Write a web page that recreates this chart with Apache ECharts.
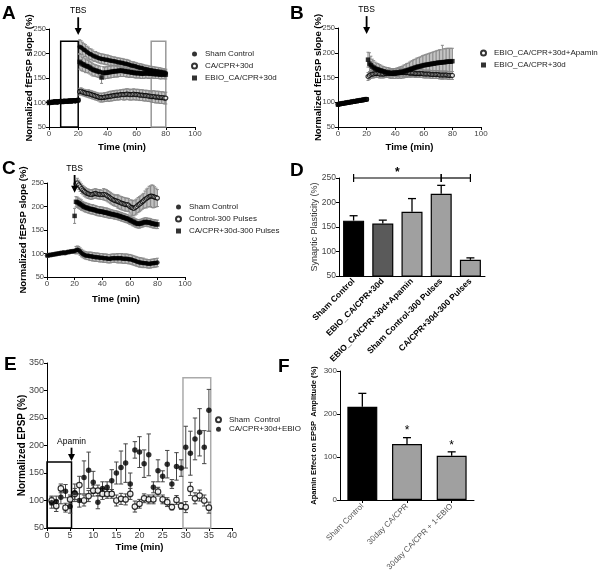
<!DOCTYPE html>
<html><head><meta charset="utf-8">
<script src="https://cdn.jsdelivr.net/npm/echarts@6/dist/echarts.min.js"></script>
<style>html,body{margin:0;padding:0;background:#fff}#c{width:600px;height:570px}</style>
</head><body><div id="c"></div>
<script>
const FONT = 'Liberation Sans, Arial, sans-serif';

// ---------- shared time axis (minutes) ----------
const minutes = [0,1,2,3,4,5,6,7,8,9,10,11,12,13,14,15,16,17,18,19,20,21,22,23,24,25,26,27,28,29,30,31,32,33,34,35,36,37,38,39,40,41,42,43,44,45,46,47,48,49,50,51,52,53,54,55,56,57,58,59,60,61,62,63,64,65,66,67,68,69,70,71,72,73,74,75,76,77,78,79,80];

// ---------- Panel A ----------
const shamA = [100,101,100,101,102,101,101,102,101,102,102,102,103,102,103,103,103,104,103,104,104,
 214,212,210,207,206,203,201,199,198,196,194,194,192,191,190,189,189,188,187,187,
 186,185,185,184,184,183,182,182,181,181,180,179,179,178,177,176,175,175,174,173,
 172,171,171,170,169,168,168,167,166,166,165,165,164,164,163,163,162,161,161,160];
const errShamA = [3,3,3,3,3,3,3,3,3,3,3,3,3,3,3,3,3,3,3,3,3,
 14,14,13,13,12,12,12,11,11,11,10,10,10,10,10,10,10,10,10,10,
 10,10,9,9,9,9,9,9,9,9,9,9,9,9,9,8,8,8,8,8,
 8,8,8,8,8,8,8,8,8,8,8,8,8,8,8,8,8,8,8,8];
const ebioA = [99,100,100,101,101,100,102,101,102,101,102,103,102,103,103,102,104,103,104,104,105,
 183,180,178,177,175,174,173,171,169,167,166,165,164,163,162,151,161,160,161,161,
 162,162,163,163,164,164,164,165,165,165,164,164,163,163,162,162,161,161,160,160,
 160,160,159,159,159,160,160,159,159,159,159,158,158,158,158,157,157,158,157,157];
const errEbioA = [3,3,3,3,3,3,3,3,3,3,3,3,3,3,3,3,3,3,3,3,3,
 15,15,14,14,14,13,13,13,13,13,12,12,12,12,12,12,12,12,12,12,
 12,12,12,12,12,12,12,12,12,12,11,11,11,11,11,10,10,10,10,10,
 10,10,10,10,10,10,10,10,10,10,9,9,9,9,9,9,9,9,9,9];
const caA = [101,100,101,101,102,102,101,102,103,102,103,103,102,103,104,103,104,104,103,104,105,
 122,123,121,120,119,118,118,117,116,115,114,113,112,111,110,110,110,111,111,112,
 112,113,113,114,114,115,115,115,116,116,116,116,117,117,116,116,116,117,116,116,
 116,115,115,115,114,114,114,113,113,112,112,112,111,111,111,110,110,110,109,109];
const errCaA = [3,3,3,3,3,3,3,3,3,3,3,3,3,3,3,3,3,3,3,3,3,
 7,7,7,7,7,7,8,8,8,8,8,8,8,8,9,9,9,9,9,9,
 10,10,10,10,10,10,10,10,10,10,11,11,11,11,11,11,11,11,11,11,
 11,11,11,11,11,11,11,11,11,11,12,12,12,12,12,12,12,12,12,12];

// ---------- Panel B ----------
const apaB = [96,97,97,98,98,99,99,100,100,101,101,102,102,103,103,104,104,105,105,106,106,
 152,154,156,157,157,158,158,158,157,157,157,157,158,158,158,159,159,159,160,160,
 160,160,161,161,161,160,160,160,160,159,159,159,159,158,158,158,158,158,158,157,
 157,157,157,157,156,156,156,156,156,156,155,155,155,155,155,155,154,154,154,154];
const errApaB = [2,2,2,2,2,2,2,2,2,2,2,2,2,2,2,2,2,2,2,2,2,
 8,8,8,8,8,8,8,8,8,8,8,8,8,8,8,8,8,8,8,8,
 8,8,8,8,8,8,8,8,8,8,8,8,8,8,8,8,8,8,8,8,
 8,8,8,8,8,8,8,8,8,8,8,8,8,8,8,8,8,8,8,8];
const ebioB = [95,96,97,97,98,98,99,99,100,100,101,101,102,102,103,103,104,104,105,105,106,
 186,178,175,172,170,168,167,166,165,164,163,162,161,160,160,159,158,158,158,158,
 159,159,160,160,161,162,163,164,165,166,167,168,169,170,171,172,172,173,174,175,
 175,176,176,177,177,178,178,179,179,180,180,180,181,181,181,182,182,182,182,183];
const errEbioB = [2,2,2,2,2,2,2,2,2,2,2,2,2,2,2,2,2,2,2,2,2,
 15,22,18,15,14,13,12,12,11,11,10,10,10,10,10,10,10,10,10,10,
 10,11,11,12,12,13,13,14,14,15,16,16,17,17,18,18,19,19,20,20,
 21,21,22,22,23,23,24,24,25,25,26,26,34,27,27,27,27,27,27,26];

// ---------- Panel C ----------
const shamC = [96,96,97,97,98,98,99,99,100,100,101,101,102,101,102,103,103,104,104,105,105,
 107,108,107,104,101,99,97,96,95,95,94,94,93,93,92,92,92,91,91,91,
 90,90,90,89,89,89,90,90,90,90,90,90,90,90,89,89,89,89,88,88,
 87,86,85,84,83,82,81,81,80,80,79,79,78,78,78,79,79,80,80,81];
const errShamC = [4,4,4,4,4,4,4,4,4,4,4,4,4,4,4,4,4,4,4,4,4,
 8,8,8,8,8,8,8,8,8,8,9,9,9,9,9,9,9,9,9,9,
 9,9,9,9,9,9,9,9,9,9,10,10,10,10,10,10,10,10,10,10,
 10,10,10,10,10,10,10,10,10,10,9,9,9,9,9,9,9,9,9,9];
const ctrl300C = [null,null,null,null,null,null,null,null,null,null,null,null,null,null,null,null,null,null,null,null,null,
 248,250,246,242,238,235,232,230,228,227,226,225,226,227,228,227,226,226,225,225,
 226,225,224,222,220,218,216,214,213,212,211,210,208,207,206,205,204,204,203,200,
 198,197,196,198,200,203,205,207,210,212,215,217,219,221,222,222,221,220,219,218];
const errCtrlC = [0,0,0,0,0,0,0,0,0,0,0,0,0,0,0,0,0,0,0,0,0,
 8,10,10,10,10,10,10,10,10,10,10,10,10,10,10,10,10,10,10,10,
 12,12,12,12,12,12,12,12,12,12,14,14,14,14,14,14,14,14,14,14,
 16,16,16,16,16,16,16,16,16,16,18,20,20,22,22,24,24,22,20,18];
const caC300 = [null,null,null,null,null,null,null,null,null,null,null,null,null,null,null,null,null,null,null,null,180,
 210,209,207,205,203,201,199,198,197,196,195,194,194,193,192,191,190,190,189,189,
 188,187,187,186,185,184,184,183,182,182,181,180,179,178,177,176,175,174,173,171,
 170,168,167,165,164,163,163,164,165,166,167,167,166,166,165,164,163,163,162,162];
const errCaC = [0,0,0,0,0,0,0,0,0,0,0,0,0,0,0,0,0,0,0,0,16,
 11,11,11,11,11,10,10,10,10,10,10,10,10,10,10,10,10,10,10,10,
 10,10,10,10,10,9,9,9,9,9,9,9,9,9,9,9,9,9,9,9,
 9,9,9,9,9,9,9,9,9,9,9,9,9,9,9,9,9,9,9,9];

// ---------- Panel D ----------
const catD = ['Sham Control','EBIO_CA/CPR+30d','EBIO_CA/CPR+30d+Apamin','Sham Control-300 Pulses','CA/CPR+30d-300 Pulses'];
const valD = [163,157,181,218,83];
const errD = [10,7,27,17,4];
const colD = ['#000000','#5a5a5a','#a0a0a0','#a0a0a0','#a0a0a0'];
const sigD = [[0,3,250,1],[3,4,250,0]]; // [from category, to category, level, star]

// ---------- Panel E ----------
const tE = [1,2,3,4,5,6,7,8,9,10,11,12,13,14,15,16,17,18,19,20,21,22,23,24,25,26,27,28,29,30,31,32,33,34,35];
const shamE = [100,90,122,87,102,112,128,100,108,118,118,112,112,112,100,103,102,112,89,94,104,102,102,116,102,97,88,101,90,88,121,104,109,100,87];
const errShamE = [8,10,8,8,8,10,16,10,10,10,10,10,8,8,10,10,10,10,10,8,8,8,8,8,8,8,5,8,6,10,12,10,10,10,10];
const ebioE = [96,98,106,117,89,114,100,142,155,133,97,122,124,136,150,160,168,130,192,188,167,183,124,154,144,166,130,162,159,197,186,212,224,197,264];
const errEbioE = [10,10,12,12,12,16,12,30,33,20,12,12,10,20,20,30,35,20,15,28,25,38,10,20,10,25,8,25,15,38,40,38,43,30,38];

// ---------- Panel F ----------
const catF = ['Sham Control','30day CA/CPR','30day CA/CPR + 1-EBIO'];
const valF = [217,130,103];
const errF = [31,15,9];
const colF = ['#000000','#a0a0a0','#a0a0a0'];

// ---------- helpers ----------
function pts(t, v) { const o = []; t.forEach((x, i) => { if (v[i] != null) o.push([x, v[i]]); }); return o; }
function errPts(t, v, e) { const o = []; t.forEach((x, i) => { if (v[i] != null) o.push([x, v[i] - e[i], v[i] + e[i]]); }); return o; }
function errRender(color, cap, width, oneSided) {
  return function (params, api) {
    const x = api.value(0), lo = api.value(1), hi = api.value(2);
    const a = api.coord([x, hi]), b = api.coord([x, lo]);
    const st = { stroke: color, lineWidth: width };
    const ch = [
      { type: 'line', shape: { x1: a[0], y1: a[1], x2: b[0], y2: b[1] }, style: st },
      { type: 'line', shape: { x1: a[0] - cap, y1: a[1], x2: a[0] + cap, y2: a[1] }, style: st }
    ];
    if (!oneSided) ch.push({ type: 'line', shape: { x1: b[0] - cap, y1: b[1], x2: b[0] + cap, y2: b[1] }, style: st });
    return { type: 'group', children: ch };
  };
}
function errSeries(ax, data, color, cap, width, oneSided) {
  return { type: 'custom', xAxisIndex: ax, yAxisIndex: ax, data: data, renderItem: errRender(color, cap, width, oneSided),
    encode: { x: 0, y: [1, 2] }, silent: true, z: 2, clip: false };
}
// arrow annotation: [x, start value, tip value], label text drawn above start
function arrowSeries(ax, x, y1, y2, text) {
  return { type: 'custom', xAxisIndex: ax, yAxisIndex: ax, data: [[x, y1, y2]], silent: true, z: 5, clip: false,
    encode: { x: 0, y: [1, 2] },
    renderItem: function (params, api) {
      const p1 = api.coord([api.value(0), api.value(1)]);
      const p2 = api.coord([api.value(0), api.value(2)]);
      return { type: 'group', children: [
        { type: 'line', shape: { x1: p1[0], y1: p1[1], x2: p2[0], y2: p2[1] - 6 }, style: { stroke: '#000', lineWidth: 1.8 } },
        { type: 'polygon', shape: { points: [[p2[0] - 3.5, p2[1] - 7], [p2[0] + 3.5, p2[1] - 7], [p2[0], p2[1]]] }, style: { fill: '#000' } },
        { type: 'text', x: p1[0], y: p1[1] - 2, style: { text: text, fill: '#000', font: '8.5px ' + FONT, align: 'center', verticalAlign: 'bottom' } }
      ] };
    } };
}
// significance brackets for panel D
function bracketSeries(ax, data) {
  return { type: 'custom', xAxisIndex: ax, yAxisIndex: ax, data: data, silent: true, z: 5, clip: false,
    encode: { x: [0, 1], y: 2 },
    renderItem: function (params, api) {
      const a = api.coord([api.value(0), api.value(2)]);
      const b = api.coord([api.value(1), api.value(2)]);
      const st = { stroke: '#000', lineWidth: 1.2 };
      const ch = [
        { type: 'line', shape: { x1: a[0], y1: a[1], x2: b[0], y2: b[1] }, style: st },
        { type: 'line', shape: { x1: a[0], y1: a[1] - 4, x2: a[0], y2: a[1] + 4 }, style: st },
        { type: 'line', shape: { x1: b[0], y1: b[1] - 4, x2: b[0], y2: b[1] + 4 }, style: st }
      ];
      if (api.value(3)) ch.push({ type: 'text', x: (a[0] + b[0]) / 2, y: a[1] + 1, style: { text: '*', fill: '#000', font: 'bold 12px ' + FONT, align: 'center', verticalAlign: 'bottom' } });
      return { type: 'group', children: ch };
    } };
}
const FILLED = { color: '#000', borderColor: '#000', borderWidth: 0 };
const OPEN = { color: '#fff', borderColor: '#000', borderWidth: 1.2 };
function sc(name, ax, data, symbol, size, style, extra) {
  return Object.assign({ type: 'scatter', name: name, xAxisIndex: ax, yAxisIndex: ax, data: data, symbol: symbol,
    symbolSize: size, itemStyle: style, z: 3, clip: false, silent: true }, extra || {});
}
function rects(list) {
  return { silent: true, itemStyle: { color: 'rgba(0,0,0,0)', borderWidth: 1.5 },
    data: list.map(r => [{ coord: [r[0], r[1]], itemStyle: { color: 'rgba(0,0,0,0)', borderColor: r[4], borderWidth: 1.5 } }, { coord: [r[2], r[3]] }]) };
}

const axisLine = { show: true, lineStyle: { color: '#000', width: 1 } };
const axisTick = { show: true, length: 3, lineStyle: { color: '#000', width: 1 } };
function lab(size, extra) { return Object.assign({ fontSize: size, color: '#444', fontFamily: FONT, margin: 3, showMinLabel: true, showMaxLabel: true }, extra || {}); }
const nameBold = (s) => ({ fontSize: s, fontWeight: 'bold', color: '#000', fontFamily: FONT });

function timeX(gi, gap, lsize, max, interval) {
  return { type: 'value', gridIndex: gi, min: 0, max: max, interval: interval, axisLine, axisTick,
    axisLabel: lab(lsize), splitLine: { show: false }, name: 'Time (min)', nameLocation: 'middle', nameGap: gap,
    nameMoveOverlap: false, nameTextStyle: nameBold(9.5) };
}
function valY(gi, min, max, interval, name, gap, nameStyle, lsize) {
  return { type: 'value', gridIndex: gi, min: min, max: max, interval: interval, axisLine, axisTick,
    axisLabel: lab(lsize), splitLine: { show: false }, name: name, nameLocation: 'middle', nameGap: gap,
    nameMoveOverlap: false, nameTextStyle: nameStyle };
}
function legend(left, top, names, gap, lh) {
  return { left: left, top: top, orient: 'vertical', itemWidth: 5, itemHeight: 5, itemGap: gap, selectedMode: false,
    padding: 0, data: names, formatter: n => n.split('|')[0],
    textStyle: { fontSize: 8, color: '#222', fontFamily: FONT, lineHeight: lh, padding: [0, 0, 0, 3] } };
}
const letter = (t, l, tp) => ({ text: t, left: l, top: tp, padding: 0, textStyle: { fontSize: 19, fontWeight: 'bold', color: '#000', fontFamily: FONT } });

const series = [];
// A
series.push(errSeries(0, errPts(minutes, shamA, errShamA), '#8a8a8a', 1.5, 1));
series.push(errSeries(0, errPts(minutes, ebioA, errEbioA), '#8a8a8a', 1.5, 1));
series.push(errSeries(0, errPts(minutes, caA, errCaA), '#8a8a8a', 1.5, 1));
series.push(sc('Sham Control|A', 0, pts(minutes, shamA), 'circle', 4.5, FILLED, {
  markArea: rects([[8, 50, 20, 225, '#000'], [70, 50, 80, 225, '#999']]) }));
series.push(sc('CA/CPR+30d|A', 0, pts(minutes, caA), 'circle', 4, OPEN));
series.push(sc('EBIO_CA/CPR+30d|A', 0, pts(minutes, ebioA), 'rect', 4.5, FILLED));
series.push(arrowSeries(0, 20, 274, 238, 'TBS'));
// B
series.push(errSeries(1, errPts(minutes, ebioB, errEbioB), '#8a8a8a', 1.5, 1));
series.push(errSeries(1, errPts(minutes, apaB, errApaB), '#8a8a8a', 1.5, 1));
series.push(sc('EBIO_CA/CPR+30d+Apamin|B', 1, pts(minutes, apaB), 'circle', 4, OPEN));
series.push(sc('EBIO_CA/CPR+30d|B', 1, pts(minutes, ebioB), 'rect', 4.5, FILLED));
series.push(arrowSeries(1, 20, 274, 238, 'TBS'));
// C
series.push(errSeries(2, errPts(minutes, shamC, errShamC), '#8a8a8a', 1.5, 1));
series.push(errSeries(2, errPts(minutes, ctrl300C, errCtrlC), '#8a8a8a', 1.5, 1));
series.push(errSeries(2, errPts(minutes, caC300, errCaC), '#8a8a8a', 1.5, 1));
series.push(sc('Sham Control|C', 2, pts(minutes, shamC), 'circle', 4.5, FILLED));
series.push(sc('Control-300 Pulses|C', 2, pts(minutes, ctrl300C), 'circle', 4, OPEN));
series.push(sc('CA/CPR+30d-300 Pulses|C', 2, pts(minutes, caC300), 'rect', 4.5, FILLED));
series.push(arrowSeries(2, 20, 267, 229, 'TBS'));
// D
series.push({ type: 'bar', xAxisIndex: 3, yAxisIndex: 3, barWidth: '72%', silent: true, z: 2,
  data: valD.map((v, i) => ({ value: v, itemStyle: { color: colD[i], borderColor: '#000', borderWidth: 1.2 } })) });
series.push(errSeries(3, valD.map((v, i) => [i, v, v + errD[i]]), '#000', 4, 1.3, true));
series.push(bracketSeries(3, sigD));
// E
series.push(errSeries(4, errPts(tE, shamE, errShamE), '#444', 2.2, 1));
series.push(errSeries(4, errPts(tE, ebioE, errEbioE), '#444', 2.2, 1));
series.push(sc('Sham  Control|E', 4, pts(tE, shamE), 'circle', 5.5, OPEN, {
  markArea: rects([[0, 50, 5.3, 170, '#000'], [29.4, 50, 35.4, 323, '#aaa']]) }));
series.push(sc('CA/CPR+30d+EBIO|E', 4, pts(tE, ebioE), 'circle', 5.5, FILLED));
series.push(arrowSeries(4, 5.3, 196, 172, 'Apamin'));
// F
series.push({ type: 'bar', xAxisIndex: 5, yAxisIndex: 5, barWidth: '67%', silent: true, z: 2,
  data: valF.map((v, i) => ({ value: v, itemStyle: { color: colF[i], borderColor: '#000', borderWidth: 1.2 } })),
  markPoint: { silent: true, symbol: 'circle', symbolSize: 1, itemStyle: { color: 'rgba(0,0,0,0)' },
    label: { show: true, position: 'top', distance: 0, formatter: '*', fontSize: 12, color: '#000', fontFamily: FONT },
    data: [1, 2].map(i => ({ coord: [catF[i], valF[i] + errF[i]] })) } });
series.push(errSeries(5, valF.map((v, i) => [i, v, v + errF[i]]), '#000', 4, 1.3, true));

const option = {
  animation: false,
  backgroundColor: '#fff',
  title: [letter('A', 2, 4), letter('B', 290, 4), letter('C', 2, 159), letter('D', 290, 161), letter('E', 4, 355), letter('F', 278, 357)],
  grid: [
    { left: 49, top: 29, width: 146, height: 98, outerBoundsMode: 'none' },
    { left: 338, top: 28, width: 143, height: 99, outerBoundsMode: 'none' },
    { left: 47, top: 183, width: 138, height: 94, outerBoundsMode: 'none' },
    { left: 339, top: 178, width: 146, height: 98, outerBoundsMode: 'none' },
    { left: 47, top: 363, width: 185, height: 165, outerBoundsMode: 'none' },
    { left: 340, top: 371, width: 134, height: 129, outerBoundsMode: 'none' }
  ],
  xAxis: [
    timeX(0, 15, 8, 100, 20),
    timeX(1, 15, 8, 100, 20),
    timeX(2, 17, 8, 100, 20),
    { type: 'category', gridIndex: 3, data: catD, axisLine, axisTick: { show: false },
      axisLabel: lab(8.5, { rotate: 45, color: '#000', fontWeight: 'bold', interval: 0, margin: 4 }) },
    timeX(4, 14, 9, 40, 5),
    { type: 'category', gridIndex: 5, data: catF, axisLine, axisTick: Object.assign({ alignWithLabel: true }, axisTick),
      axisLabel: lab(8, { rotate: 45, color: '#555', interval: 0, margin: 5 }) }
  ],
  yAxis: [
    valY(0, 50, 250, 50, 'Normalized fEPSP slope (%)', 15, nameBold(9.5), 7.5),
    valY(1, 50, 250, 50, 'Normalized fEPSP slope (%)', 15, nameBold(9.5), 7.5),
    valY(2, 50, 250, 50, 'Normalized fEPSP slope (%)', 19, nameBold(9.5), 7.5),
    valY(3, 50, 250, 50, 'Synaptic Plasticity (%)', 20, { fontSize: 9, color: '#333', fontFamily: FONT }, 8.5),
    valY(4, 50, 350, 50, 'Normalized EPSP (%)', 20, nameBold(10), 9),
    valY(5, 0, 300, 100, 'Apamin Effect on EPSP  Amplitude (%)', 22, nameBold(7.5), 8)
  ],
  legend: [
    legend(191, 49, ['Sham Control|A', 'CA/CPR+30d|A', 'EBIO_CA/CPR+30d|A'], 2, 10),
    legend(480, 48, ['EBIO_CA/CPR+30d+Apamin|B', 'EBIO_CA/CPR+30d|B'], 2, 10),
    legend(175, 202, ['Sham Control|C', 'Control-300 Pulses|C', 'CA/CPR+30d-300 Pulses|C'], 2, 10),
    legend(215, 415, ['Sham  Control|E', 'CA/CPR+30d+EBIO|E'], 0, 9.5)
  ],
  series: series
};
const chart = echarts.init(document.getElementById('c'), null, { renderer: 'canvas' });
chart.setOption(option);
</script>
</body></html>
